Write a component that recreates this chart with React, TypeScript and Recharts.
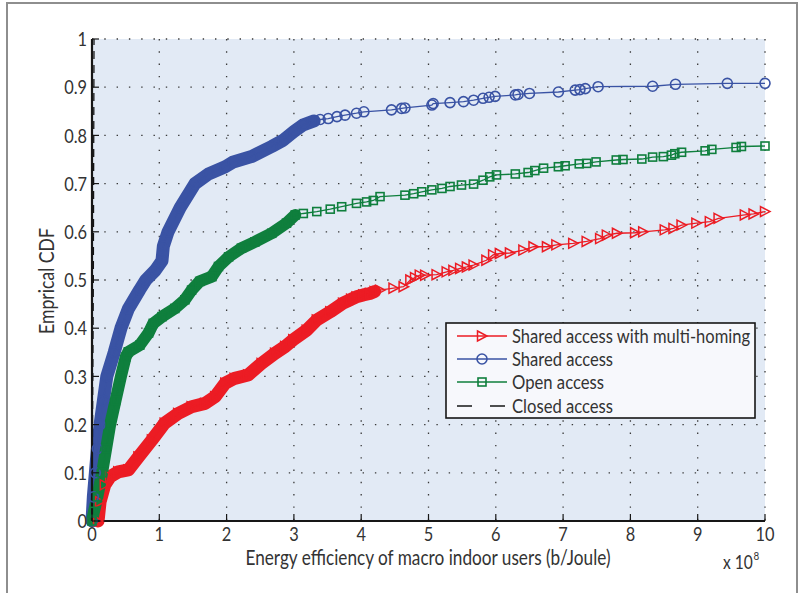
import React from 'react'
import { LineChart, Line, XAxis, YAxis, CartesianGrid, Legend } from 'recharts'

const multiHoming: [number, number][] = [
  [0.09, 0], [0.12, 0.04], [0.19, 0.075], [0.27, 0.092], [0.39, 0.102], [0.54, 0.106],
  [0.69, 0.133], [0.89, 0.168], [1.08, 0.203], [1.28, 0.223], [1.48, 0.237], [1.68, 0.244],
  [1.83, 0.258], [1.98, 0.286], [2.12, 0.296], [2.32, 0.303], [2.52, 0.327], [2.72, 0.348],
  [2.87, 0.362], [2.99, 0.376], [3.19, 0.396], [3.34, 0.417], [3.54, 0.434], [3.73, 0.452],
  [3.85, 0.46], [3.93, 0.465], [4.03, 0.469], [4.13, 0.472], [4.2, 0.476], [4.28, 0.479],
  [4.48, 0.483], [4.63, 0.486], [4.73, 0.5], [4.8, 0.505], [4.87, 0.51], [4.95, 0.51],
  [5.12, 0.511], [5.27, 0.517], [5.37, 0.52], [5.47, 0.524], [5.57, 0.527], [5.67, 0.531],
  [5.86, 0.541], [5.96, 0.552], [6.06, 0.555], [6.21, 0.556], [6.41, 0.562], [6.56, 0.569],
  [6.76, 0.569], [6.9, 0.573], [7.15, 0.576], [7.35, 0.58], [7.55, 0.586], [7.65, 0.593],
  [7.8, 0.597], [8.07, 0.598], [8.19, 0.6], [8.51, 0.604], [8.64, 0.607], [8.76, 0.614],
  [8.98, 0.618], [9.18, 0.621], [9.31, 0.628], [9.7, 0.635], [9.83, 0.637], [10, 0.642],
]

const sharedAccess: [number, number][] = [
  [0, 0], [0.02, 0.05], [0.05, 0.1], [0.08, 0.15], [0.12, 0.2], [0.17, 0.25], [0.22, 0.3],
  [0.33, 0.35], [0.43, 0.4], [0.54, 0.44], [0.71, 0.48], [0.8, 0.5], [0.94, 0.52], [1.04, 0.54],
  [1.06, 0.57], [1.13, 0.6], [1.31, 0.65], [1.53, 0.7], [1.73, 0.72], [1.98, 0.735],
  [2.1, 0.745], [2.37, 0.756], [2.67, 0.777], [2.84, 0.79], [3.0, 0.808], [3.14, 0.822],
  [3.3, 0.83], [3.39, 0.833], [3.51, 0.835], [3.64, 0.839], [3.76, 0.842], [3.93, 0.846],
  [4.04, 0.849], [4.45, 0.853], [4.6, 0.856], [4.65, 0.857], [5.05, 0.863], [5.07, 0.866],
  [5.32, 0.868], [5.52, 0.87], [5.67, 0.873], [5.81, 0.877], [5.9, 0.879], [5.99, 0.881],
  [6.29, 0.884], [6.33, 0.885], [6.5, 0.887], [6.93, 0.89], [7.18, 0.894], [7.25, 0.895],
  [7.33, 0.897], [7.52, 0.901], [8.33, 0.902], [8.67, 0.906], [9.44, 0.908], [10, 0.908],
]

const openAccess: [number, number][] = [
  [0, 0], [0.03, 0.02], [0.08, 0.05], [0.15, 0.1], [0.21, 0.15], [0.27, 0.2], [0.35, 0.25],
  [0.43, 0.3], [0.5, 0.34], [0.54, 0.351], [0.71, 0.365], [0.84, 0.39], [0.91, 0.41],
  [1.04, 0.424], [1.23, 0.441], [1.38, 0.459], [1.48, 0.479], [1.6, 0.497], [1.78, 0.507],
  [1.88, 0.528], [2.03, 0.548], [2.22, 0.566], [2.42, 0.579], [2.67, 0.597], [2.89, 0.618],
  [3.02, 0.635], [3.14, 0.638], [3.34, 0.642], [3.54, 0.647], [3.71, 0.652], [3.93, 0.659],
  [4.08, 0.662], [4.18, 0.665], [4.28, 0.673], [4.65, 0.676], [4.78, 0.679], [4.9, 0.683],
  [5.05, 0.687], [5.2, 0.69], [5.32, 0.694], [5.49, 0.697], [5.67, 0.699], [5.81, 0.707],
  [5.91, 0.714], [6.01, 0.718], [6.29, 0.72], [6.48, 0.723], [6.58, 0.727], [6.71, 0.732],
  [6.93, 0.735], [7.03, 0.737], [7.24, 0.741], [7.35, 0.742], [7.49, 0.745], [7.79, 0.749],
  [7.89, 0.75], [8.17, 0.751], [8.33, 0.755], [8.49, 0.756], [8.61, 0.759], [8.66, 0.762],
  [8.76, 0.765], [9.11, 0.768], [9.21, 0.771], [9.57, 0.775], [9.65, 0.777], [10, 0.778],
]

const closedAccess: [number, number][] = [
  [0, 0], [0.02, 0.5], [0.03, 1],
]

const xTicks = [0, 1, 2, 3, 4, 5, 6, 7, 8, 9, 10]
const yTicks = [0, 0.1, 0.2, 0.3, 0.4, 0.5, 0.6, 0.7, 0.8, 0.9, 1]
const yTickLabels = ['0', '0.1', '0.2', '0.3', '0.4', '0.5', '0.6', '0.7', '0.8', '0.9', '1']
const seriesNames = ['Shared access with multi-homing', 'Shared access', 'Open access', 'Closed access']

// where the markers are packed so tight they read as a solid band
const RED_BAND_END = 4.2
const BLUE_BAND_END = 3.3
const GREEN_BAND_END = 3.1

const RED = '#ec1c24'
const BLUE = '#3a53a4'
const GREEN = '#0f7f3d'
const INK = '#161616'
const TEXT = '#333'
const FONT = "Lato, 'Open Sans', sans-serif"

const W = 809
const H = 593
const PLOT = { left: 92, right: 765, top: 39, bottom: 521 }
const TICK_LEN = 7

const toPoints = (pairs: [number, number][]) => pairs.map(([x, y]) => ({ x, y }))
const upTo = (pairs: [number, number][], end: number) => toPoints(pairs.filter(([x]) => x <= end))

function triangle(cx: number, cy: number) {
  return `M${cx - 4.5},${cy - 5} L${cx + 5},${cy} L${cx - 4.5},${cy + 5} Z`
}

// the original typeface is a condensed one, so squeeze text horizontally
function NarrowText(props: {
  x: number
  y: number
  size: number
  sx?: number
  anchor?: 'start' | 'middle' | 'end'
  len?: number
  rotate?: number
  children: React.ReactNode
}) {
  const { x, y, size, sx = 0.8, anchor = 'start', len, rotate, children } = props
  const transform = `translate(${x} ${y})${rotate ? ` rotate(${rotate})` : ''} scale(${sx} 1)`
  return (
    <text
      transform={transform}
      x={0}
      y={0}
      dy="0.36em"
      fontSize={size}
      textAnchor={anchor}
      fill={TEXT}
      fontFamily={FONT}
      textLength={len ? len / sx : undefined}
      lengthAdjust={len ? 'spacingAndGlyphs' : undefined}
    >
      {children}
    </text>
  )
}

const TriangleDot = (props: any) => {
  const { cx, cy, index } = props
  if (cx == null || cy == null) return <g key={`t${index}`} />
  return <path key={`t${index}`} d={triangle(cx, cy)} fill="none" stroke={RED} strokeWidth={1.5} />
}

const CircleDot = (props: any) => {
  const { cx, cy, index } = props
  if (cx == null || cy == null) return <g key={`c${index}`} />
  return <circle key={`c${index}`} cx={cx} cy={cy} r={5} fill="none" stroke={BLUE} strokeWidth={1.6} />
}

const SquareDot = (props: any) => {
  const { cx, cy, index } = props
  if (cx == null || cy == null) return <g key={`s${index}`} />
  return <rect key={`s${index}`} x={cx - 4} y={cy - 4} width={8} height={8} fill="none" stroke={GREEN} strokeWidth={1.6} />
}

const LeftTick = (props: any) => {
  const { y, index } = props
  return (
    <g>
      <line x1={PLOT.left} x2={PLOT.left + TICK_LEN} y1={y} y2={y} stroke={INK} strokeWidth={1.2} />
      <NarrowText x={PLOT.left - 5} y={y} size={20} sx={0.82} anchor="end">
        {yTickLabels[index]}
      </NarrowText>
    </g>
  )
}

const BottomTick = (props: any) => {
  const { x, index } = props
  return (
    <g>
      <line x1={x} x2={x} y1={PLOT.bottom} y2={PLOT.bottom - TICK_LEN} stroke={INK} strokeWidth={1.2} />
      <NarrowText x={x} y={534} size={20} sx={0.82} anchor="middle">
        {xTicks[index]}
      </NarrowText>
    </g>
  )
}

const TopTick = (props: any) => (
  <line x1={props.x} x2={props.x} y1={PLOT.top} y2={PLOT.top + TICK_LEN} stroke={INK} strokeWidth={1.2} />
)

const RightTick = (props: any) => (
  <line x1={PLOT.right} x2={PLOT.right - TICK_LEN} y1={props.y} y2={props.y} stroke={INK} strokeWidth={1.2} />
)

function LegendBox() {
  const rows = [14, 37, 60, 84]
  const lengths = [238, 101, 92, 101]
  const colors = [RED, BLUE, GREEN, INK]
  return (
    <svg width={312} height={98} style={{ display: 'block' }}>
      <rect x={1} y={1} width={309} height={95} fill="#f7f8fc" stroke={INK} strokeWidth={1.6} />
      {rows.map((ry, i) => (
        <g key={seriesNames[i]}>
          {i < 3 ? (
            <line x1={12} x2={62} y1={ry} y2={ry} stroke={colors[i]} strokeWidth={1.3} />
          ) : (
            <line x1={12} x2={62} y1={ry} y2={ry} stroke={INK} strokeWidth={1.3} strokeDasharray="15 18" />
          )}
          {i === 0 && <path d={triangle(37, ry)} fill="none" stroke={RED} strokeWidth={1.5} />}
          {i === 1 && <circle cx={37} cy={ry} r={5} fill="none" stroke={BLUE} strokeWidth={1.6} />}
          {i === 2 && <rect x={33} y={ry - 4} width={8} height={8} fill="none" stroke={GREEN} strokeWidth={1.6} />}
          <NarrowText x={67} y={ry} size={19} sx={0.78} len={lengths[i]}>
            {seriesNames[i]}
          </NarrowText>
        </g>
      ))}
    </svg>
  )
}

export default function App() {
  const axisLine = { stroke: INK, strokeWidth: 2.2 }
  return (
    <div style={{ position: 'absolute', left: 0, top: 0, width: W, height: H, background: '#fff', overflow: 'hidden' }}>
      <div
        style={{
          position: 'absolute',
          left: 6,
          top: 2,
          width: 788,
          height: 620,
          border: '2px solid #8e8e8e',
        }}
      />
      <div style={{ position: 'absolute', left: 0, top: 0 }}>
        <LineChart width={W} height={H} margin={{ top: 39, right: 44, bottom: 0, left: 0 }}>
          <CartesianGrid
            xAxisId="bottom"
            yAxisId="left"
            fill="#e2eaf5"
            stroke="#3a3a3a"
            strokeWidth={1.3}
            strokeDasharray="1.4 10.9"
          />
          <XAxis
            xAxisId="bottom"
            type="number"
            dataKey="x"
            domain={[0, 10]}
            ticks={xTicks}
            height={72}
            axisLine={axisLine}
            tickLine={false}
            tick={BottomTick}
            interval={0}
          />
          <XAxis
            xAxisId="top"
            orientation="top"
            type="number"
            dataKey="x"
            domain={[0, 10]}
            ticks={xTicks}
            height={0}
            axisLine={axisLine}
            tickLine={false}
            tick={TopTick}
            interval={0}
          />
          <YAxis
            yAxisId="left"
            type="number"
            domain={[0, 1]}
            ticks={yTicks}
            width={92}
            axisLine={axisLine}
            tickLine={false}
            tick={LeftTick}
            interval={0}
          />
          <YAxis
            yAxisId="right"
            orientation="right"
            type="number"
            domain={[0, 1]}
            ticks={yTicks}
            width={0}
            axisLine={axisLine}
            tickLine={false}
            tick={RightTick}
            interval={0}
          />

          <Line xAxisId="bottom" yAxisId="left" name="mh-band" data={upTo(multiHoming, RED_BAND_END)} dataKey="y"
            stroke={RED} strokeWidth={13} strokeLinecap="round" strokeLinejoin="round" dot={false} activeDot={false}
            legendType="none" isAnimationActive={false} />
          <Line xAxisId="bottom" yAxisId="left" name={seriesNames[0]} data={toPoints(multiHoming)} dataKey="y"
            stroke={RED} strokeWidth={1.3} dot={TriangleDot} activeDot={false} isAnimationActive={false} />

          <Line xAxisId="bottom" yAxisId="left" name="sa-band" data={upTo(sharedAccess, BLUE_BAND_END)} dataKey="y"
            stroke={BLUE} strokeWidth={13} strokeLinecap="round" strokeLinejoin="round" dot={false} activeDot={false}
            legendType="none" isAnimationActive={false} />
          <Line xAxisId="bottom" yAxisId="left" name={seriesNames[1]} data={toPoints(sharedAccess)} dataKey="y"
            stroke={BLUE} strokeWidth={1.3} dot={CircleDot} activeDot={false} isAnimationActive={false} />

          <Line xAxisId="bottom" yAxisId="left" name="oa-band" data={upTo(openAccess, GREEN_BAND_END)} dataKey="y"
            stroke={GREEN} strokeWidth={12} strokeLinecap="round" strokeLinejoin="round" dot={false} activeDot={false}
            legendType="none" isAnimationActive={false} />
          <Line xAxisId="bottom" yAxisId="left" name={seriesNames[2]} data={toPoints(openAccess)} dataKey="y"
            stroke={GREEN} strokeWidth={1.3} dot={SquareDot} activeDot={false} isAnimationActive={false} />

          <Line xAxisId="bottom" yAxisId="left" name={seriesNames[3]} data={toPoints(closedAccess)} dataKey="y"
            stroke={INK} strokeWidth={1.3} strokeDasharray="8 6" dot={false} activeDot={false} isAnimationActive={false} />

          <Legend
            layout="horizontal"
            verticalAlign="middle"
            align="center"
            wrapperStyle={{ left: 445, top: 322, width: 312, height: 98 }}
            content={() => <LegendBox />}
          />

          <NarrowText x={428} y={557} size={21} sx={0.75} anchor="middle" len={365}>
            Energy efficiency of macro indoor users (b/Joule)
          </NarrowText>
          <NarrowText x={46} y={281} size={21} sx={0.75} anchor="middle" len={106} rotate={-90}>
            Emprical CDF
          </NarrowText>
          <NarrowText x={723} y={562} size={19} sx={0.82}>
            x 10
            <tspan dx={1} dy={-9} fontSize={12}>8</tspan>
          </NarrowText>
        </LineChart>
      </div>
    </div>
  )
}
